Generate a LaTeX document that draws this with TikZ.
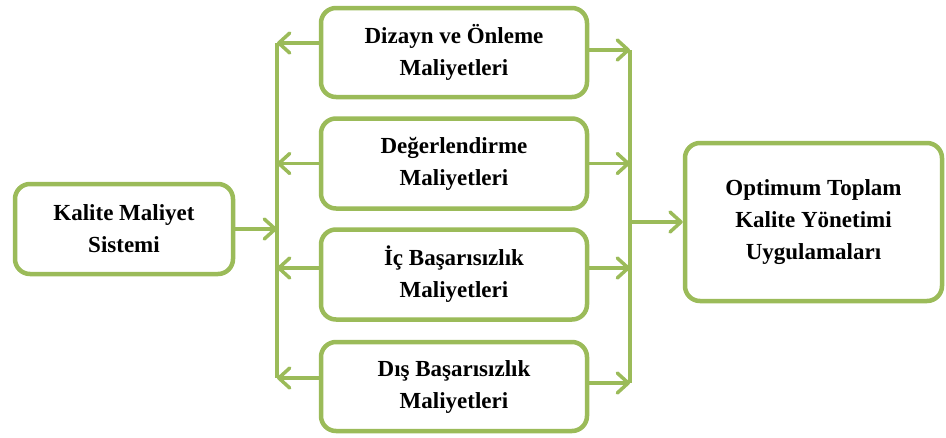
\documentclass[tikz,border=0pt]{standalone}
\usepackage{fontspec}
\setmainfont{Liberation Serif}
\usetikzlibrary{arrows.meta}
\definecolor{gr}{RGB}{155,187,89}
\begin{document}
\begin{tikzpicture}[x=1pt,y=-1pt,
  box/.style={draw=gr, line width=4.5pt, rounded corners=15pt, align=center,
    font=\fontsize{23}{32}\selectfont\bfseries, inner sep=0pt, fill=white},
  conn/.style={draw=gr, line width=3.5pt},
  arr/.style={conn, -{Straight Barb[length=11pt,width=20pt,line cap=round,line join=round]}}]
\useasboundingbox (0,0) rectangle (946,437);
\node[box, minimum width=218pt, minimum height=90pt] (src) at (124,229) {Kalite Maliyet\\Sistemi};
\node[box, minimum width=266pt, minimum height=89pt] (b1) at (454,52.5) {Dizayn ve Önleme\\Maliyetleri};
\node[box, minimum width=266pt, minimum height=90pt] (b2) at (454,163.5) {Değerlendirme\\Maliyetleri};
\node[box, minimum width=266pt, minimum height=90pt] (b3) at (454,274.5) {İç Başarısızlık\\Maliyetleri};
\node[box, minimum width=266pt, minimum height=89pt] (b4) at (454,386.5) {Dış Başarısızlık\\Maliyetleri};
\node[box, minimum width=257pt, minimum height=158pt] (dst) at (813.5,222) {Optimum Toplam\\Kalite Yönetimi\\Uygulamaları};
\coordinate (LT) at (277,43);
\coordinate (LB) at (277,378);
\coordinate (RT) at (630,50);
\coordinate (RB) at (630,383);
\coordinate (a3) at (277,268);
\draw[conn] (LT) -- (LB);
\draw[conn] (RT) -- (RB);
\draw[arr] (src.east) -- (src.east -| LT);
\draw[arr] (b1.west |- LT) -- (LT);
\draw[arr] (b2.west) -- (b2.west -| LT);
\draw[arr] (b3.west |- a3) -- (a3);
\draw[arr] (b4.west |- LB) -- (LB);
\draw[arr] (b1.east |- RT) -- (RT);
\draw[arr] (b2.east) -- (b2.east -| RT);
\draw[arr] (b3.east |- a3) -- (a3 -| RT);
\draw[arr] (b4.east |- RB) -- (RB);
\draw[arr] (RT |- dst.west) -- (dst.west);
\end{tikzpicture}
\end{document}
